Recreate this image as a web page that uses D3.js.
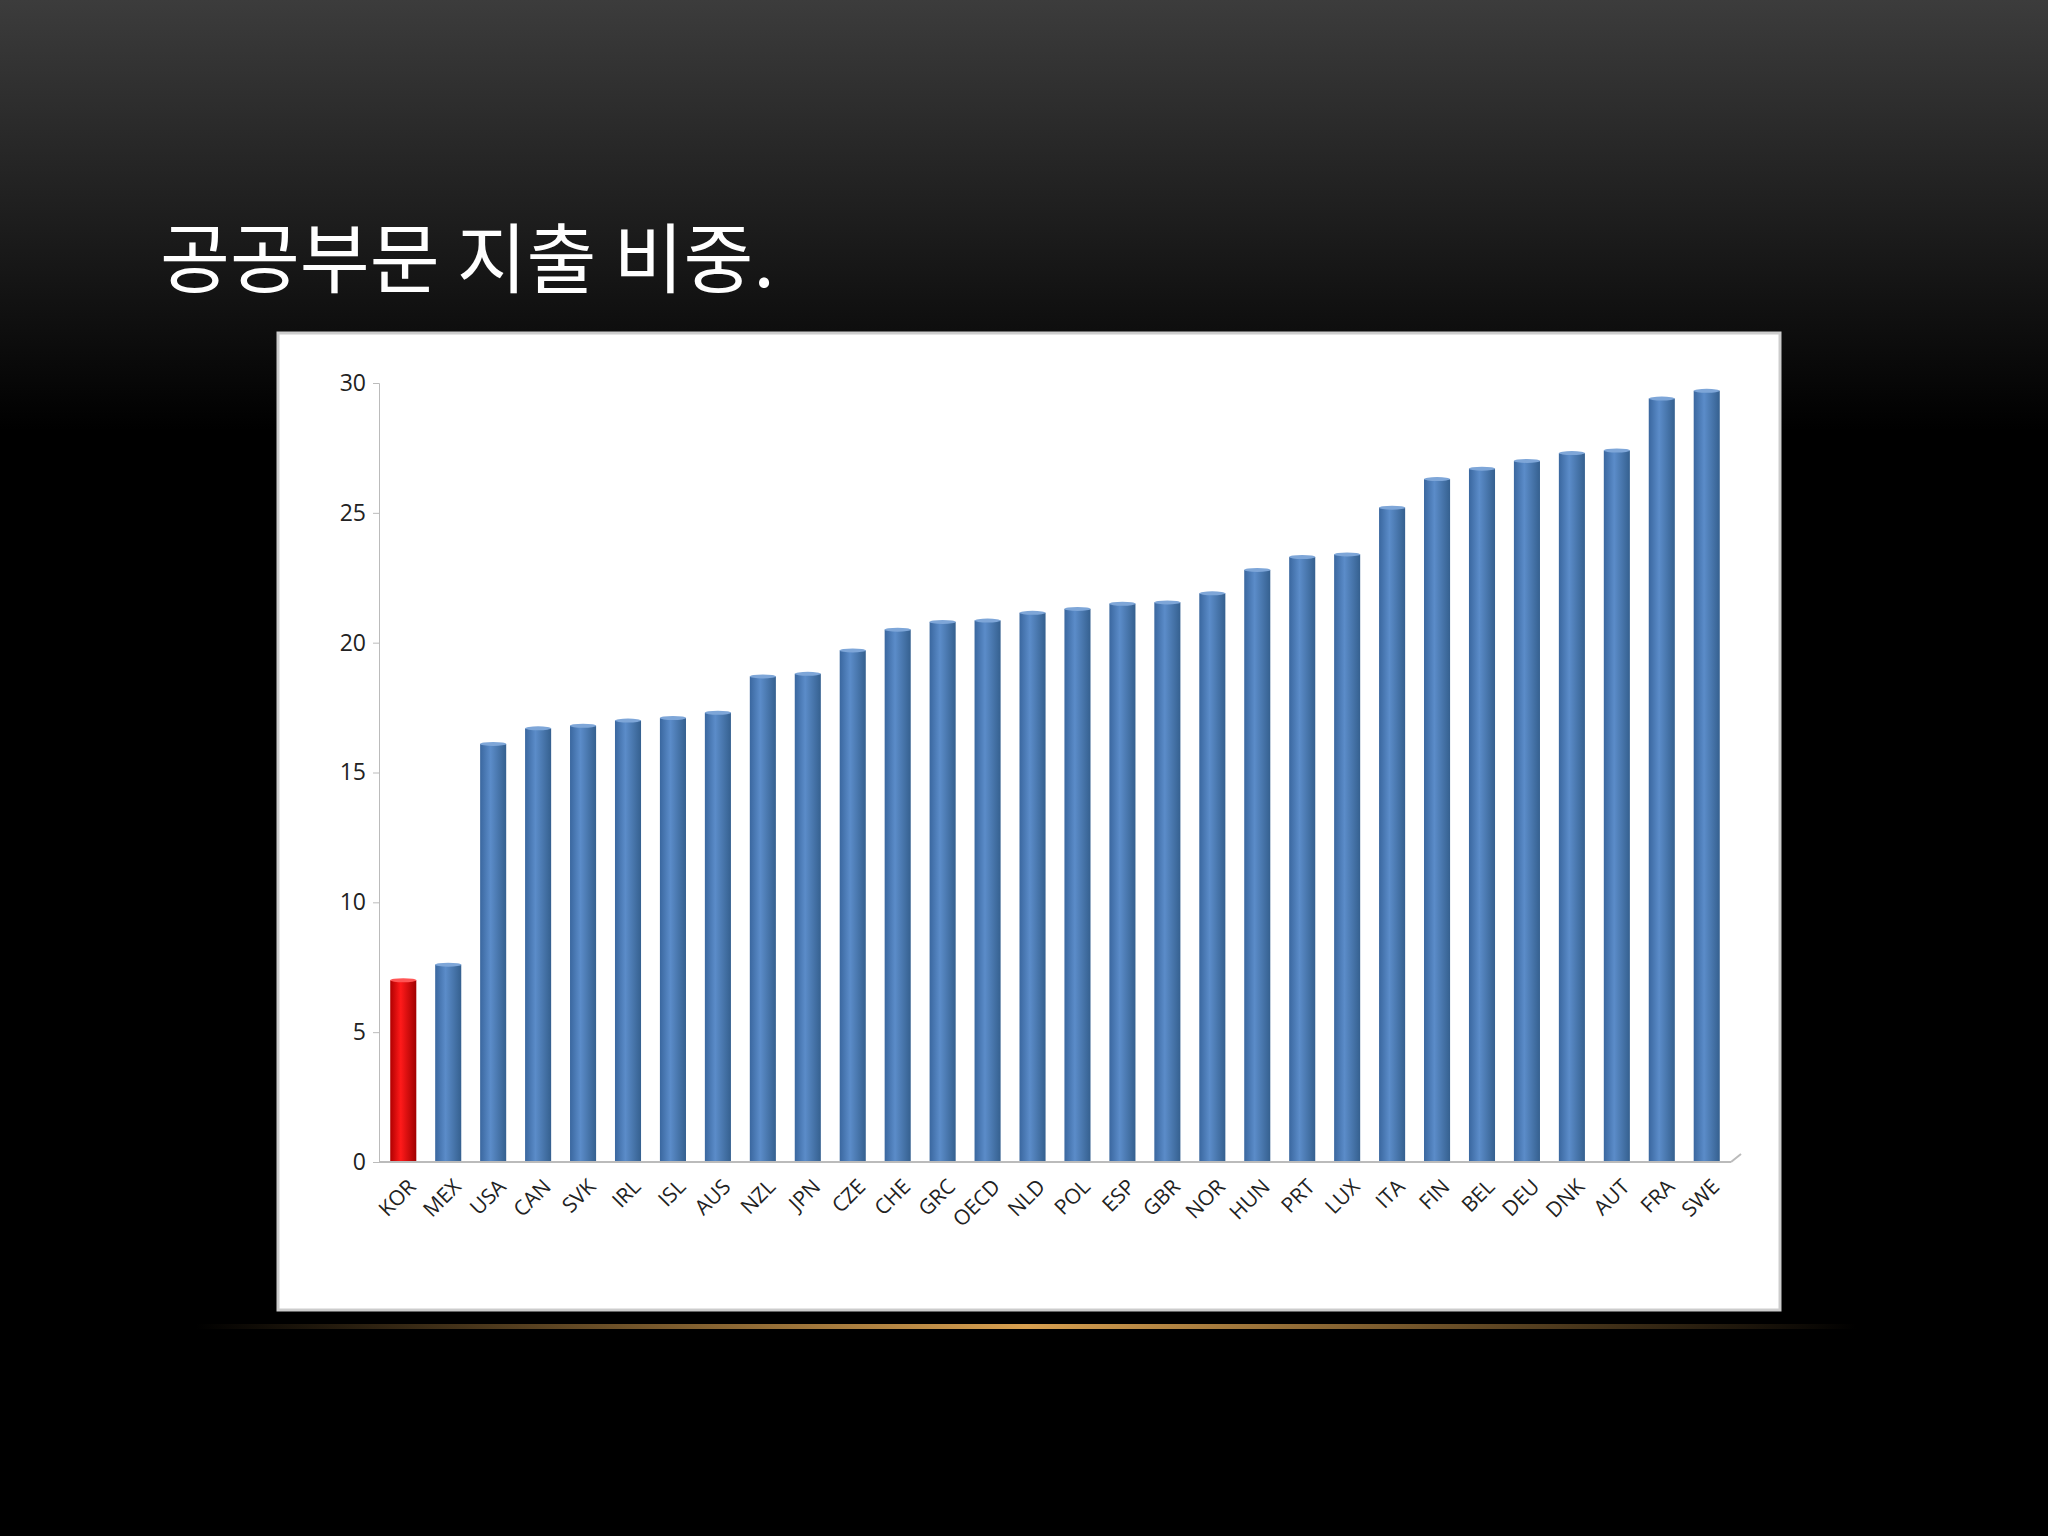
<!DOCTYPE html>
<html><head><meta charset="utf-8">
<script src="https://cdn.jsdelivr.net/npm/d3@7"></script>
<style>body{margin:0;background:#000}</style></head>
<body><svg id="c" width="2048" height="1536"></svg>
<script>
const categories=["KOR","MEX","USA","CAN","SVK","IRL","ISL","AUS","NZL","JPN","CZE","CHE","GRC","OECD","NLD","POL","ESP","GBR","NOR","HUN","PRT","LUX","ITA","FIN","BEL","DEU","DNK","AUT","FRA","SWE"];
const values=[7.0,7.6,16.1,16.7,16.8,17.0,17.1,17.3,18.7,18.8,19.7,20.5,20.8,20.85,21.15,21.3,21.5,21.55,21.9,22.8,23.3,23.4,25.2,26.3,26.7,27.0,27.3,27.4,29.4,29.7];
const yTicks=[0,5,10,15,20,25,30];
const title="공공부문 지출 비중.";

const svg=d3.select("#c");
const defs=svg.append("defs");
const bg=defs.append("linearGradient").attr("id","bg").attr("x1",0).attr("x2",0).attr("y1",0).attr("y2",1);
bg.append("stop").attr("offset","0").attr("stop-color","#3c3c3c");
bg.append("stop").attr("offset","0.28").attr("stop-color","#000");
bg.append("stop").attr("offset","1").attr("stop-color","#000");
const bl=defs.append("linearGradient").attr("id","blue");
bl.append("stop").attr("offset","0").attr("stop-color","#3a679f");
bl.append("stop").attr("offset","0.4").attr("stop-color","#5b8cc9");
bl.append("stop").attr("offset","1").attr("stop-color","#35608f");
const rd=defs.append("linearGradient").attr("id","red");
rd.append("stop").attr("offset","0").attr("stop-color","#b00000");
rd.append("stop").attr("offset","0.4").attr("stop-color","#ff1a1a");
rd.append("stop").attr("offset","1").attr("stop-color","#a00000");
const gl=defs.append("linearGradient").attr("id","gold");
gl.append("stop").attr("offset","0").attr("stop-color","#000");
gl.append("stop").attr("offset","0.5").attr("stop-color","#d8a050");
gl.append("stop").attr("offset","1").attr("stop-color","#000");

svg.append("rect").attr("width",2048).attr("height",1536).attr("fill","url(#bg)");
svg.append("text").attr("x",160).attr("y",287).attr("fill","#fff")
  .attr("font-family","Noto Sans CJK KR").attr("font-size",76).text(title);
svg.append("rect").attr("x",196).attr("y",1324).attr("width",1660).attr("height",5).attr("fill","url(#gold)");

svg.append("rect").attr("x",278).attr("y",333).attr("width",1502).attr("height",977)
  .attr("fill","#fff").attr("stroke","#ccc").attr("stroke-width",3);

const x=d3.scaleBand().domain(categories).range([379,1731]).paddingInner(0.42).paddingOuter(0.25);
const y=d3.scaleLinear().domain([0,30]).range([1162,383]);
const g=svg.append("g");
g.selectAll("rect.b").data(values).join("rect").attr("class","b")
  .attr("x",(d,i)=>x(categories[i])).attr("width",x.bandwidth())
  .attr("y",d=>y(d)).attr("height",d=>y(0)-y(d))
  .attr("fill",(d,i)=>i===0?"url(#red)":"url(#blue)");
g.selectAll("ellipse").data(values).join("ellipse")
  .attr("cx",(d,i)=>x(categories[i])+x.bandwidth()/2).attr("cy",d=>y(d))
  .attr("rx",x.bandwidth()/2).attr("ry",2)
  .attr("fill",(d,i)=>i===0?"#ff5555":"#7ea6d8");

const ya=svg.append("g").attr("transform","translate(379,0)")
  .call(d3.axisLeft(y).tickValues(yTicks).tickSize(6));
ya.select(".domain").attr("stroke","#bbb");
ya.selectAll("line").attr("stroke","#bbb");
ya.selectAll("text").attr("font-family","Open Sans").attr("font-size",23).attr("fill","#222").attr("dx",-4);

svg.append("line").attr("x1",379).attr("x2",1731).attr("y1",1162).attr("y2",1162).attr("stroke","#bbb").attr("stroke-width",2);
svg.append("line").attr("x1",1731).attr("x2",1741).attr("y1",1162).attr("y2",1154).attr("stroke","#bbb").attr("stroke-width",2);

svg.append("g").selectAll("text").data(categories).join("text")
  .attr("transform",d=>`translate(${x(d)+x.bandwidth()/2+14},1188) rotate(-45)`)
  .attr("text-anchor","end").attr("font-family","Open Sans").attr("font-size",21).attr("fill","#222")
  .text(d=>d);
</script></body></html>
